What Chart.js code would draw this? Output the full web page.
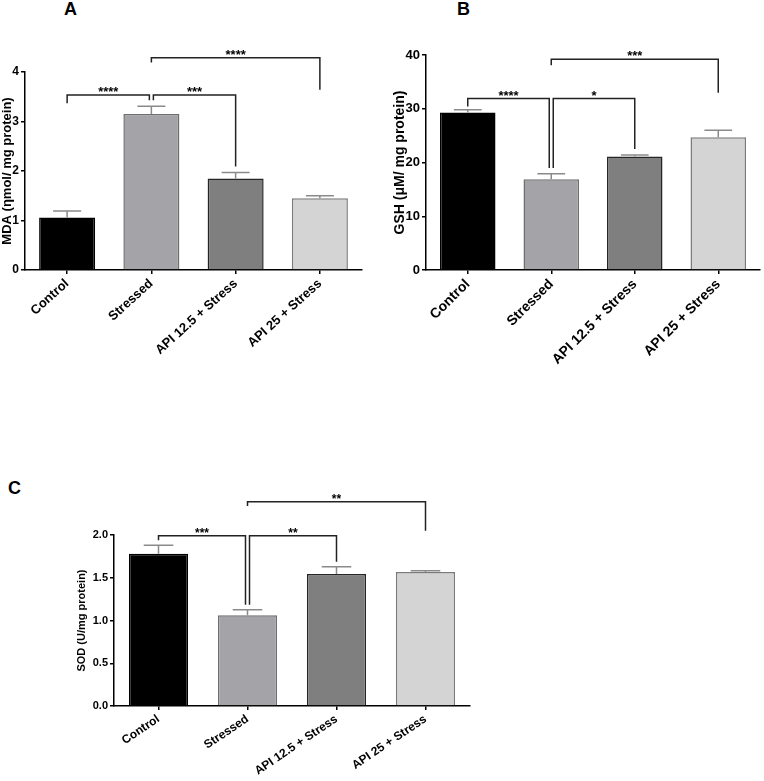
<!DOCTYPE html>
<html>
<head>
<meta charset="utf-8">
<script src="https://cdn.jsdelivr.net/npm/chart.js@4.4.1/dist/chart.umd.min.js"></script>
<style>
  body { margin: 0; background: #fff; width: 764px; height: 781px; position: relative; overflow: hidden; }
  canvas { position: absolute; }
  .panel { position: absolute; font-family: "Liberation Sans", Arial, sans-serif; font-weight: bold; font-size: 18px; color: #000; }
</style>
</head>
<body>
<div class="panel" style="left:64px; top:-1px;">A</div>
<div class="panel" style="left:457px; top:-1px;">B</div>
<div class="panel" style="left:8px; top:478px;">C</div>
<canvas id="chartA" width="380" height="380" style="left:0; top:0;"></canvas>
<canvas id="chartB" width="384" height="380" style="left:380px; top:0;"></canvas>
<canvas id="chartC" width="500" height="381" style="left:0; top:400px;"></canvas>
<script>
let categories = ["Control", "Stressed", "API 12.5 + Stress", "API 25 + Stress"];

let mdaMeans = [1.06, 3.15, 1.85, 1.45];
let mdaErrors = [0.13, 0.16, 0.12, 0.05];
let mdaTicks = [0, 1, 2, 3, 4];

let gshMeans = [29.3, 16.9, 21.1, 24.7];
let gshErrors = [0.5, 1.0, 0.3, 1.3];
let gshTicks = [0, 10, 20, 30, 40];

let sodMeans = [1.78, 1.06, 1.545, 1.568];
let sodErrors = [0.10, 0.065, 0.085, 0.015];
let sodTicks = [0, 0.5, 1.0, 1.5, 2.0];

// [from bar, to bar, bracket level, left leg end, right leg end, label]
let mdaBrackets = [[0, 1, 3.535, 3.37, 3.43, "****"], [1, 2, 3.535, 3.43, 2.09, "***"], [1, 3, 4.29, 4.19, 3.64, "****"]];
let gshBrackets = [[0, 1, 31.9, 30.4, 19.0, "****"], [1, 2, 31.9, 19.0, 22.5, "*"], [1, 3, 39.2, 38.1, 33.0, "***"]];
let sodBrackets = [[0, 1, 1.992, 1.94, 1.183, "***"], [1, 2, 1.992, 1.183, 1.688, "**"], [1, 3, 2.389, 2.34, 2.05, "**"]];

let fillColors = ["#000000", "#a4a4a8", "#7f7f7f", "#d4d4d4"];
let edgeColors = ["#000000", "#6e6e6e", "#262626", "#7a7a7a"];
let fontFamily = "'Liberation Sans', Arial, sans-serif";

let annotations = {
    id: "annotations",
    afterDatasetsDraw(chart, args, opts) {
        let ctx = chart.ctx;
        let bars = chart.getDatasetMeta(0).data;
        let y = chart.scales.y;
        ctx.save();
        // error bars (upper only)
        ctx.strokeStyle = "#8a8a8a";
        ctx.lineWidth = 1.5;
        opts.errors.forEach((err, i) => {
            let bar = bars[i];
            let top = y.getPixelForValue(opts.means[i] + err);
            let half = bar.width / 4;
            ctx.beginPath();
            ctx.moveTo(bar.x, bar.y);
            ctx.lineTo(bar.x, top);
            ctx.moveTo(bar.x - half, top);
            ctx.lineTo(bar.x + half, top);
            ctx.stroke();
        });
        // significance brackets
        ctx.strokeStyle = "#222";
        ctx.lineWidth = 1.5;
        ctx.fillStyle = "#000";
        ctx.font = "bold " + opts.starFont + "px " + fontFamily;
        ctx.textAlign = "center";
        ctx.textBaseline = "alphabetic";
        opts.brackets.forEach((b) => {
            let shared = opts.brackets.some((o) => o !== b && o[2] === b[2]);
            let x1 = bars[b[0]].x;
            let x2 = bars[b[1]].x;
            if (shared && b[0] === 1) x1 += 2;
            if (shared && b[1] === 1) x2 -= 2;
            let level = y.getPixelForValue(b[2]);
            ctx.beginPath();
            ctx.moveTo(x1, y.getPixelForValue(b[3]));
            ctx.lineTo(x1, level);
            ctx.lineTo(x2, level);
            ctx.lineTo(x2, y.getPixelForValue(b[4]));
            ctx.stroke();
            ctx.fillText(b[5], (x1 + x2) / 2, level + 1);
        });
        ctx.restore();
    }
};

function makePanel(id, conf) {
    return new Chart(document.getElementById(id), {
        type: "bar",
        data: {
            labels: categories,
            datasets: [{
                data: conf.means,
                backgroundColor: fillColors,
                borderColor: edgeColors,
                borderWidth: 1.5,
                categoryPercentage: 1,
                barPercentage: 0.665,
            }]
        },
        plugins: [annotations],
        options: {
            responsive: false,
            animation: false,
            layout: {padding: {top: conf.top, right: conf.right, left: 0, bottom: 0}},
            plugins: {
                legend: {display: false},
                tooltip: {enabled: false},
                annotations: {means: conf.means, errors: conf.errors, brackets: conf.brackets, starFont: conf.starFont},
            },
            scales: {
                x: {
                    offset: true,
                    afterFit: (s) => { s.height = conf.xHeight; },
                    grid: {display: true, drawOnChartArea: false, drawTicks: true, tickLength: 4, offset: false, color: "#000", lineWidth: 1.5},
                    border: {display: true, color: "#000", width: 1.5},
                    ticks: {
                        autoSkip: false, maxRotation: conf.angle, minRotation: conf.angle, padding: 2, color: "#000",
                        font: {family: fontFamily, weight: "bold", size: conf.xFont},
                    },
                },
                y: {
                    min: conf.ticks[0],
                    max: conf.ticks[conf.ticks.length - 1],
                    afterFit: (s) => { s.width = conf.yWidth; },
                    afterBuildTicks: (s) => { s.ticks = conf.ticks.map((v) => ({value: v})); },
                    grid: {display: true, drawOnChartArea: false, drawTicks: true, tickLength: 4, color: "#000", lineWidth: 1.5},
                    border: {display: true, color: "#000", width: 1.5},
                    title: {
                        display: true, text: conf.title, color: "#000", padding: {top: conf.titlePad, bottom: 0},
                        font: {family: fontFamily, weight: "bold", size: conf.titleFont},
                    },
                    ticks: {
                        padding: 2, color: "#000",
                        font: {family: fontFamily, weight: "bold", size: conf.tickFont},
                        callback: conf.format,
                    },
                },
            },
        },
    });
}

makePanel("chartA", {
    means: mdaMeans, errors: mdaErrors, brackets: mdaBrackets, ticks: mdaTicks,
    title: "MDA (\u03b7mol/ mg protein)", titleFont: 13, titlePad: 0, tickFont: 12, xFont: 13, angle: 42, starFont: 13,
    top: 72, right: 18, yWidth: 25, xHeight: 110,
    format: (v) => v,
});

makePanel("chartB", {
    means: gshMeans, errors: gshErrors, brackets: gshBrackets, ticks: gshTicks,
    title: "GSH (\u03bcM/ mg protein)", titleFont: 14, titlePad: 12, tickFont: 13, xFont: 14, angle: 45, starFont: 13,
    top: 55, right: 4, yWidth: 46, xHeight: 110,
    format: (v) => v,
});

makePanel("chartC", {
    means: sodMeans, errors: sodErrors, brackets: sodBrackets, ticks: sodTicks,
    title: "SOD (U/mg protein)", titleFont: 11, titlePad: 75, tickFont: 11, xFont: 12, angle: 34, starFont: 12,
    top: 135, right: 30, yWidth: 114, xHeight: 75,
    format: (v) => Number(v).toFixed(1),
});
</script>
</body>
</html>
